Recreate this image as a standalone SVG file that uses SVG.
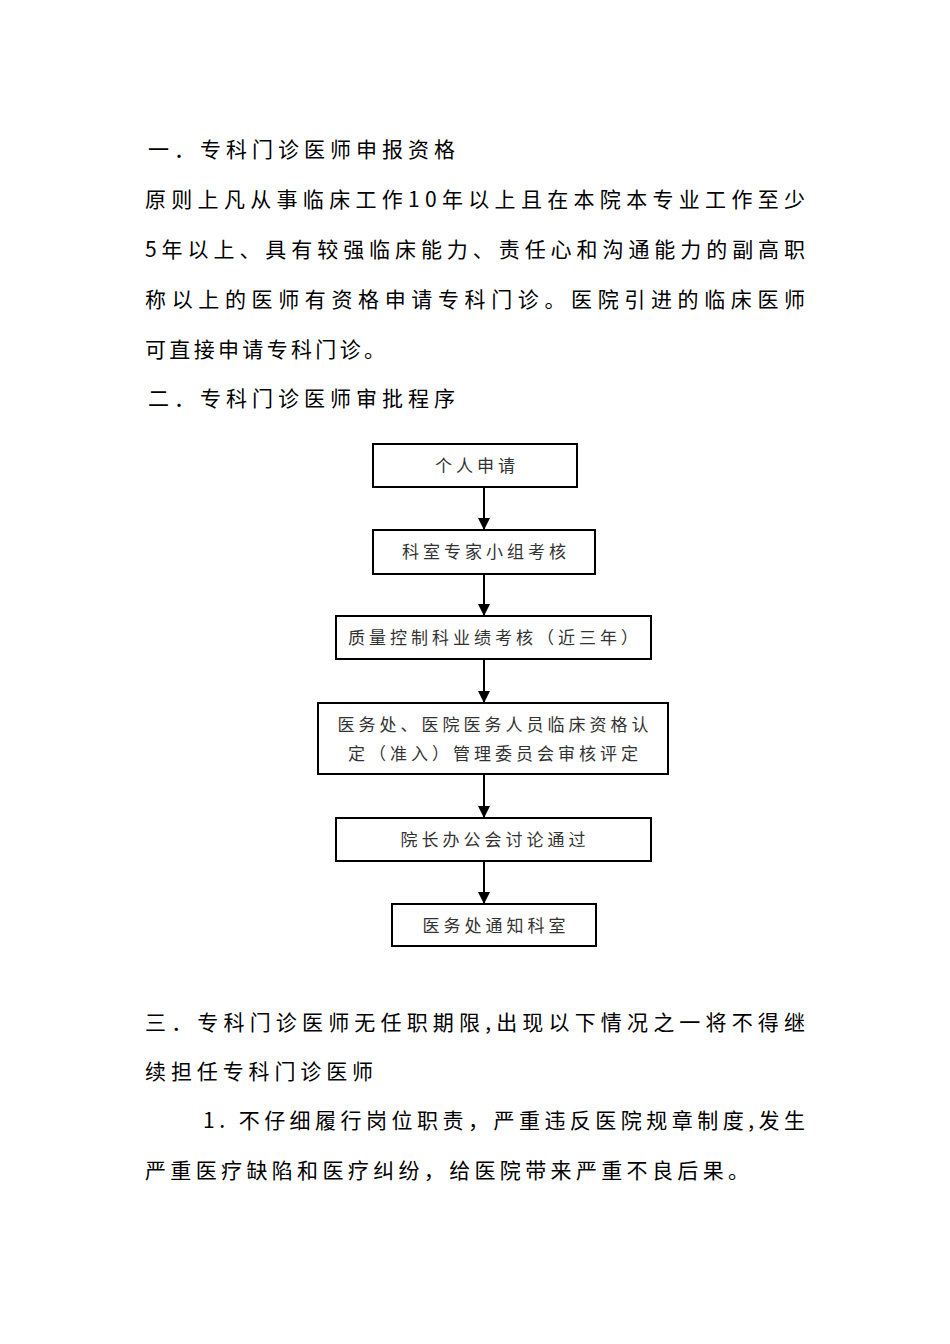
<svg xmlns="http://www.w3.org/2000/svg" width="950" height="1344" viewBox="0 0 950 1344">
<style>
.t{font-family:"Noto Sans CJK SC","Liberation Sans",sans-serif;font-size:21px;fill:#000}
.b{fill:#fff;stroke:#000;stroke-width:2}
.l{font-family:"Noto Sans CJK SC","Liberation Sans",sans-serif;font-size:17px;fill:#333;text-anchor:middle;letter-spacing:4px}
.c{stroke:#000;stroke-width:2;fill:none;marker-end:url(#a)}
</style>
<defs><marker id="a" viewBox="0 0 10 10" refX="10" refY="5" markerWidth="6" markerHeight="6" markerUnits="strokeWidth" orient="auto"><path d="M0,0L10,5L0,10z" fill="#000"/></marker></defs>
<rect width="950" height="1344" fill="#fff"/>
<text class="t" x="148" y="157" textLength="307" lengthAdjust="spacing">一．专科门诊医师申报资格</text>
<text class="t" x="145" y="207" textLength="660" lengthAdjust="spacing">原则上凡从事临床工作10年以上且在本院本专业工作至少</text>
<text class="t" x="145" y="257" textLength="660" lengthAdjust="spacing">5年以上、具有较强临床能力、责任心和沟通能力的副高职</text>
<text class="t" x="145" y="307" textLength="660" lengthAdjust="spacing">称以上的医师有资格申请专科门诊。医院引进的临床医师</text>
<text class="t" x="145" y="357" textLength="240" lengthAdjust="spacing">可直接申请专科门诊。</text>
<text class="t" x="148" y="406" textLength="307" lengthAdjust="spacing">二．专科门诊医师审批程序</text>
<g id="n1"><rect class="b" x="373" y="444" width="204" height="43"/><text class="l" x="477" y="472">个人申请</text></g>
<g id="n2"><rect class="b" x="373" y="530" width="222" height="44"/><text class="l" x="486" y="558">科室专家小组考核</text></g>
<g id="n3"><rect class="b" x="336" y="616" width="315" height="43" stroke-width="3"/><text class="l" x="495" y="644">质量控制科业绩考核（近三年）</text></g>
<g id="n4"><rect class="b" x="318" y="703" width="350" height="71"/><text class="l" x="495" y="731">医务处、医院医务人员临床资格认</text><text class="l" x="495" y="760">定（准入）管理委员会审核评定</text></g>
<g id="n5"><rect class="b" x="336" y="818" width="315" height="43"/><text class="l" x="495" y="846">院长办公会讨论通过</text></g>
<g id="n6"><rect class="b" x="392" y="904" width="204" height="42"/><text class="l" x="496" y="932">医务处通知科室</text></g>
<g id="connectors">
<line class="c" x1="484" y1="487" x2="484" y2="530"/>
<line class="c" x1="484" y1="574" x2="484" y2="616"/>
<line class="c" x1="484" y1="659" x2="484" y2="703"/>
<line class="c" x1="484" y1="774" x2="484" y2="818"/>
<line class="c" x1="484" y1="861" x2="484" y2="904"/>
</g>
<text class="t" x="145" y="1030" textLength="660" lengthAdjust="spacing">三．专科门诊医师无任职期限,出现以下情况之一将不得继</text>
<text class="t" x="145" y="1079" textLength="228" lengthAdjust="spacing">续担任专科门诊医师</text>
<text class="t" x="203" y="1128" textLength="602" lengthAdjust="spacing">1. 不仔细履行岗位职责，严重违反医院规章制度,发生</text>
<text class="t" x="145" y="1178" textLength="604" lengthAdjust="spacing">严重医疗缺陷和医疗纠纷，给医院带来严重不良后果。</text>
</svg>
